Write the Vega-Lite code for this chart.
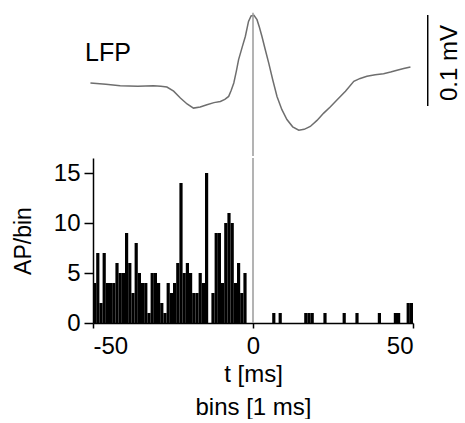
{
  "$schema": "https://vega.github.io/schema/vega-lite/v6.json",
  "padding": {"left": 12, "top": 10, "right": 0, "bottom": 0},
  "spacing": 0,
  "config": {
    "view": {"stroke": null},
    "font": "Liberation Sans",
    "axis": {"labelFont": "Liberation Sans", "titleFont": "Liberation Sans", "labelColor": "#000", "titleColor": "#000", "domainColor": "#000", "tickColor": "#000", "grid": false}
  },
  "resolve": {"scale": {"x": "independent"}},
  "vconcat": [
    {
      "width": 320,
      "height": 146,
      "layer": [
        {
          "data": {"values": [
            {"t": -50.8, "v": 0.0}, {"t": -46, "v": -0.0015}, {"t": -41.5, "v": -0.003}, {"t": -36, "v": -0.0035}, {"t": -31.1, "v": -0.003},
            {"t": -28.8, "v": -0.0035}, {"t": -26.9, "v": -0.0044}, {"t": -24.8, "v": -0.009}, {"t": -22.7, "v": -0.0165}, {"t": -20.6, "v": -0.023},
            {"t": -18.6, "v": -0.0275}, {"t": -16.5, "v": -0.0262}, {"t": -14.4, "v": -0.0238}, {"t": -12.2, "v": -0.0215}, {"t": -10.2, "v": -0.0202},
            {"t": -8.8, "v": -0.018}, {"t": -7.6, "v": -0.0147}, {"t": -6.8, "v": -0.008}, {"t": -6.0, "v": 0.0}, {"t": -5.2, "v": 0.013},
            {"t": -4.5, "v": 0.0256}, {"t": -3.4, "v": 0.039}, {"t": -2.4, "v": 0.051}, {"t": -1.4, "v": 0.0675}, {"t": -0.6, "v": 0.0735},
            {"t": 0.3, "v": 0.0741}, {"t": 1.25, "v": 0.0694}, {"t": 2.0, "v": 0.061}, {"t": 2.8, "v": 0.051}, {"t": 3.8, "v": 0.037},
            {"t": 4.9, "v": 0.022}, {"t": 6.2, "v": 0.003}, {"t": 7.5, "v": -0.0147}, {"t": 9.0, "v": -0.029}, {"t": 10.6, "v": -0.04},
            {"t": 12.4, "v": -0.048}, {"t": 14.3, "v": -0.0518}, {"t": 16.0, "v": -0.0508}, {"t": 17.9, "v": -0.0476}, {"t": 20.0, "v": -0.041},
            {"t": 22.1, "v": -0.033}, {"t": 24.2, "v": -0.026}, {"t": 26.3, "v": -0.0183}, {"t": 28.9, "v": -0.009}, {"t": 31.5, "v": 0.0018},
            {"t": 33.5, "v": 0.005}, {"t": 35.6, "v": 0.0073}, {"t": 38.2, "v": 0.009}, {"t": 40.8, "v": 0.0102}, {"t": 43.0, "v": 0.012},
            {"t": 45.0, "v": 0.0139}, {"t": 47.1, "v": 0.0158}, {"t": 49.2, "v": 0.0176}
          ]},
          "mark": {"type": "line", "color": "#6e6e6e", "strokeWidth": 1.5},
          "encoding": {
            "x": {"field": "t", "type": "quantitative", "scale": {"domain": [-50, 50], "nice": false}, "axis": null},
            "y": {"field": "v", "type": "quantitative", "scale": {"domain": [-0.08, 0.08], "nice": false, "zero": false}, "axis": null}
          }
        },
        {
          "data": {"values": [{"t": 0, "a": -0.08, "b": 0.077}]},
          "mark": {"type": "rule", "color": "#9a9a9a", "strokeWidth": 1.5},
          "encoding": {
            "x": {"field": "t", "type": "quantitative"},
            "y": {"field": "a", "type": "quantitative"},
            "y2": {"field": "b"}
          }
        },
        {
          "data": {"values": [{"t": 54.6, "a": -0.0252, "b": 0.0745}]},
          "mark": {"type": "rule", "color": "#000", "strokeWidth": 1.5},
          "encoding": {
            "x": {"field": "t", "type": "quantitative"},
            "y": {"field": "a", "type": "quantitative"},
            "y2": {"field": "b"}
          }
        },
        {
          "data": {"values": [{"t": 61.6, "v": 0.0219, "label": "0.1 mV"}]},
          "mark": {"type": "text", "angle": 270, "fontSize": 24, "align": "center", "baseline": "middle", "color": "#000"},
          "encoding": {
            "x": {"field": "t", "type": "quantitative"},
            "y": {"field": "v", "type": "quantitative"},
            "text": {"field": "label"}
          }
        },
        {
          "data": {"values": [{"t": -52.5, "v": 0.0334, "label": "LFP"}]},
          "mark": {"type": "text", "fontSize": 25, "align": "left", "baseline": "middle", "color": "#000"},
          "encoding": {
            "x": {"field": "t", "type": "quantitative"},
            "y": {"field": "v", "type": "quantitative"},
            "text": {"field": "label"}
          }
        }
      ]
    },
    {
      "width": 320,
      "height": 165,
      "layer": [
        {
          "data": {"values": [
            {"t0": -50, "t1": -49, "n": 4}, {"t0": -49, "t1": -48, "n": 7}, {"t0": -48, "t1": -47, "n": 2}, {"t0": -47, "t1": -46, "n": 7}, {"t0": -46, "t1": -45, "n": 4},
            {"t0": -45, "t1": -44, "n": 4}, {"t0": -44, "t1": -43, "n": 4}, {"t0": -43, "t1": -42, "n": 6}, {"t0": -42, "t1": -41, "n": 5}, {"t0": -41, "t1": -40, "n": 5},
            {"t0": -40, "t1": -39, "n": 9}, {"t0": -39, "t1": -38, "n": 6}, {"t0": -38, "t1": -37, "n": 3}, {"t0": -37, "t1": -36, "n": 8}, {"t0": -36, "t1": -35, "n": 5},
            {"t0": -35, "t1": -34, "n": 4}, {"t0": -34, "t1": -33, "n": 4}, {"t0": -33, "t1": -32, "n": 1}, {"t0": -32, "t1": -31, "n": 5}, {"t0": -31, "t1": -30, "n": 5},
            {"t0": -30, "t1": -29, "n": 4}, {"t0": -29, "t1": -28, "n": 2}, {"t0": -28, "t1": -27, "n": 1}, {"t0": -27, "t1": -26, "n": 4}, {"t0": -26, "t1": -25, "n": 3},
            {"t0": -25, "t1": -24, "n": 4}, {"t0": -24, "t1": -23, "n": 6}, {"t0": -23, "t1": -22, "n": 14}, {"t0": -22, "t1": -21, "n": 5}, {"t0": -21, "t1": -20, "n": 6},
            {"t0": -20, "t1": -19, "n": 5}, {"t0": -19, "t1": -18, "n": 3}, {"t0": -18, "t1": -17, "n": 3}, {"t0": -17, "t1": -16, "n": 5}, {"t0": -16, "t1": -15, "n": 4},
            {"t0": -15, "t1": -14, "n": 15}, {"t0": -14, "t1": -13, "n": 0}, {"t0": -13, "t1": -12, "n": 3}, {"t0": -12, "t1": -11, "n": 9}, {"t0": -11, "t1": -10, "n": 9},
            {"t0": -10, "t1": -9, "n": 4}, {"t0": -9, "t1": -8, "n": 10}, {"t0": -8, "t1": -7, "n": 11}, {"t0": -7, "t1": -6, "n": 10}, {"t0": -6, "t1": -5, "n": 4},
            {"t0": -5, "t1": -4, "n": 6}, {"t0": -4, "t1": -3, "n": 3}, {"t0": -3, "t1": -2, "n": 5}, {"t0": -2, "t1": -1, "n": 0}, {"t0": -1, "t1": 0, "n": 0},
            {"t0": 6, "t1": 7, "n": 1}, {"t0": 8, "t1": 9, "n": 1}, {"t0": 16, "t1": 17, "n": 1}, {"t0": 17, "t1": 18, "n": 1}, {"t0": 18, "t1": 19, "n": 1},
            {"t0": 22, "t1": 23, "n": 1}, {"t0": 28, "t1": 29, "n": 1}, {"t0": 32, "t1": 33, "n": 1}, {"t0": 39, "t1": 40, "n": 1}, {"t0": 44, "t1": 45, "n": 1},
            {"t0": 45, "t1": 46, "n": 1}, {"t0": 48, "t1": 49, "n": 2}, {"t0": 49, "t1": 50, "n": 2}
          ]},
          "mark": {"type": "bar", "color": "#000"},
          "encoding": {
            "x": {"field": "t0", "type": "quantitative", "scale": {"domain": [-50, 50], "nice": false},
                  "axis": {"values": [-50, 0, 50], "labelExpr": "datum.value", "labelFontSize": 24, "tickSize": 5, "domainWidth": 1.5, "tickWidth": 1.5, "labelPadding": 6,
                           "title": ["t [ms]", "bins [1 ms]"], "titleFontSize": 24, "titleFontWeight": "normal", "titlePadding": 4, "titleLineHeight": 33}},
            "x2": {"field": "t1"},
            "y": {"field": "n", "type": "quantitative", "scale": {"domain": [0, 16.5], "nice": false},
                  "axis": {"values": [0, 5, 10, 15], "labelFontSize": 24, "tickSize": 9, "domainWidth": 1.5, "tickWidth": 1.5, "labelPadding": 4,
                           "title": "AP/bin", "titleFontSize": 23, "titleFontWeight": "normal", "titlePadding": 18}},
            "y2": {"datum": 0}
          }
        },
        {
          "data": {"values": [{"t": 0, "a": 0, "b": 16.5}]},
          "mark": {"type": "rule", "color": "#9a9a9a", "strokeWidth": 1.5},
          "encoding": {
            "x": {"field": "t", "type": "quantitative"},
            "y": {"field": "a", "type": "quantitative"},
            "y2": {"field": "b"}
          }
        }
      ]
    }
  ]
}
